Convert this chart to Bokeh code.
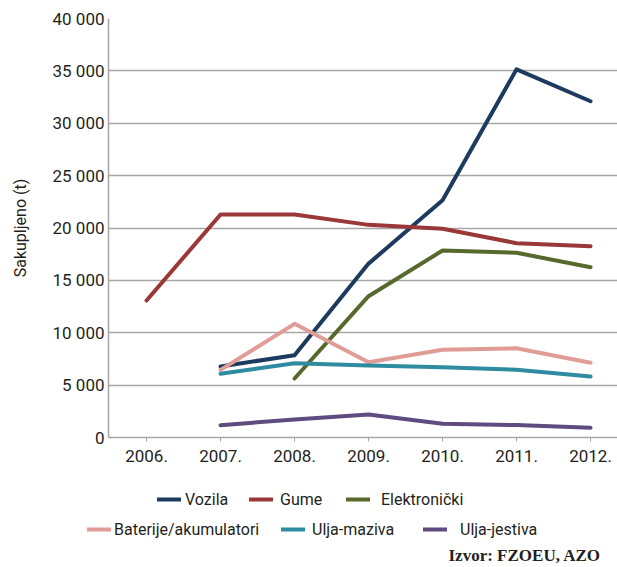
from bokeh.plotting import figure
from bokeh.layouts import column
from bokeh.models import Range1d, FixedTicker, Legend, LegendItem, Label
from bokeh.embed import file_html
from bokeh.resources import INLINE

years = [2006, 2007, 2008, 2009, 2010, 2011, 2012]
year_labels = ["2006.", "2007.", "2008.", "2009.", "2010.", "2011.", "2012."]

vozila = [None, 6780, 7860, 16600, 22650, 35150, 32100]
gume = [13080, 21290, 21290, 20300, 19930, 18550, 18260]
elektronicki = [None, None, 5630, 13490, 17850, 17630, 16260]
baterije = [None, 6460, 10850, 7190, 8380, 8520, 7140]
ulja_maziva = [None, 6080, 7090, 6870, 6700, 6470, 5820]
ulja_jestiva = [None, 1180, 1720, 2200, 1310, 1190, 930]

y_ticks = [0, 5000, 10000, 15000, 20000, 25000, 30000, 35000, 40000]
y_tick_labels = ["0", "5 000", "10 000", "15 000", "20 000", "25 000",
                 "30 000", "35 000", "40 000"]

series_names = ["Vozila", "Gume", "Elektronički", "Baterije/akumulatori",
                "Ulja-maziva", "Ulja-jestiva"]
series_values = [vozila, gume, elektronicki, baterije, ulja_maziva, ulja_jestiva]
series_colors = ["#1d3a5f", "#9a3737", "#576a2c", "#e09c97", "#2f8b9f", "#5f4b7f"]
source_text = "Izvor: FZOEU, AZO"

FONT = "Roboto"
GRID = "#a6a6a6"
TXT = "#231f20"

# ---------------- main chart ----------------
p = figure(width=617, height=470, output_backend="svg", toolbar_location=None,
           x_range=Range1d(2005.486, 2012.364), y_range=Range1d(0, 40000),
           min_border_left=108, min_border_right=0, min_border_top=18,
           min_border_bottom=33)
p.frame_align = False
p.outline_line_color = None
p.background_fill_color = "white"
p.border_fill_color = "white"

p.xgrid.grid_line_color = None
p.ygrid.grid_line_color = GRID
p.ygrid.grid_line_width = 1.5

p.xaxis.ticker = FixedTicker(ticks=years)
p.xaxis.major_label_overrides = {y: l for y, l in zip(years, year_labels)}
p.yaxis.ticker = FixedTicker(ticks=y_ticks)
p.yaxis.major_label_overrides = {t: l for t, l in zip(y_ticks, y_tick_labels)}

for ax in (p.xaxis[0], p.yaxis[0]):
    ax.axis_line_color = GRID
    ax.axis_line_width = 1.5
    ax.major_label_text_font = FONT
    ax.major_label_text_font_size = "17px"
    ax.major_label_text_color = TXT
    ax.minor_tick_line_color = None
p.xaxis.major_tick_line_color = GRID
p.xaxis.major_tick_out = 4
p.xaxis.major_tick_in = 0
p.xaxis.major_label_standoff = 8
p.yaxis.major_tick_line_color = None
p.yaxis.major_tick_out = 0
p.yaxis.major_tick_in = 0
p.yaxis.major_label_standoff = 4
p.yaxis.axis_label = "Sakupljeno (t)"
p.yaxis.axis_label_text_font = FONT
p.yaxis.axis_label_text_font_size = "16px"
p.yaxis.axis_label_text_font_style = "normal"
p.yaxis.axis_label_text_color = TXT
p.yaxis.axis_label_standoff = 20

series_xy = {}
for name, vals, color in zip(series_names, series_values, series_colors):
    xs = [y for y, v in zip(years, vals) if v is not None]
    ys = [v for v in vals if v is not None]
    series_xy[name] = (xs, ys)
    p.line(xs, ys, line_color=color, line_width=4, line_join="round",
           line_cap="round")

# ---------------- legend + source strip ----------------
lg = figure(width=617, height=97, output_backend="svg", toolbar_location=None,
            x_range=Range1d(0, 617), y_range=Range1d(0, 97),
            min_border=0, min_border_left=0, min_border_right=0,
            min_border_top=0, min_border_bottom=0,
            x_axis_type=None, y_axis_type=None)
lg.frame_align = False
lg.outline_line_color = None
lg.xgrid.grid_line_color = None
lg.ygrid.grid_line_color = None
lg.border_fill_color = "white"
lg.background_fill_color = "white"

swatch = {}
for name, color in zip(series_names, series_colors):
    xs, ys = series_xy[name]
    r = lg.line(xs, ys, line_color=color, line_width=4, line_cap="round")
    r.visible = False
    swatch[name] = r

# legend item placement (screen px within the strip): x, y, label standoff
legend_layout = {
    "Vozila": (157, 58, 4),
    "Gume": (249, 58, 7),
    "Elektronički": (346, 58, 11),
    "Baterije/akumulatori": (87, 28, 3),
    "Ulja-maziva": (281, 28, 7),
    "Ulja-jestiva": (423, 28, 13),
}

for name in series_names:
    x, y, standoff = legend_layout[name]
    lg.add_layout(Legend(items=[LegendItem(label=name, renderers=[swatch[name]])],
                         orientation="horizontal", location=(x, y),
                         border_line_alpha=0, background_fill_alpha=0,
                         padding=0, margin=0, spacing=0, label_standoff=standoff,
                         glyph_width=24, glyph_height=20, label_height=20,
                         label_text_font=FONT, label_text_font_size="16px",
                         label_text_color=TXT, click_policy="none"), "center")

lg.add_layout(Label(x=448, y=12, x_units="screen", y_units="screen",
                    text=source_text, text_font="Liberation Serif",
                    text_font_style="bold", text_font_size="17px",
                    text_color=TXT, text_baseline="alphabetic"))

open("out.html", "w").write(file_html(column(p, lg, spacing=0), INLINE))
